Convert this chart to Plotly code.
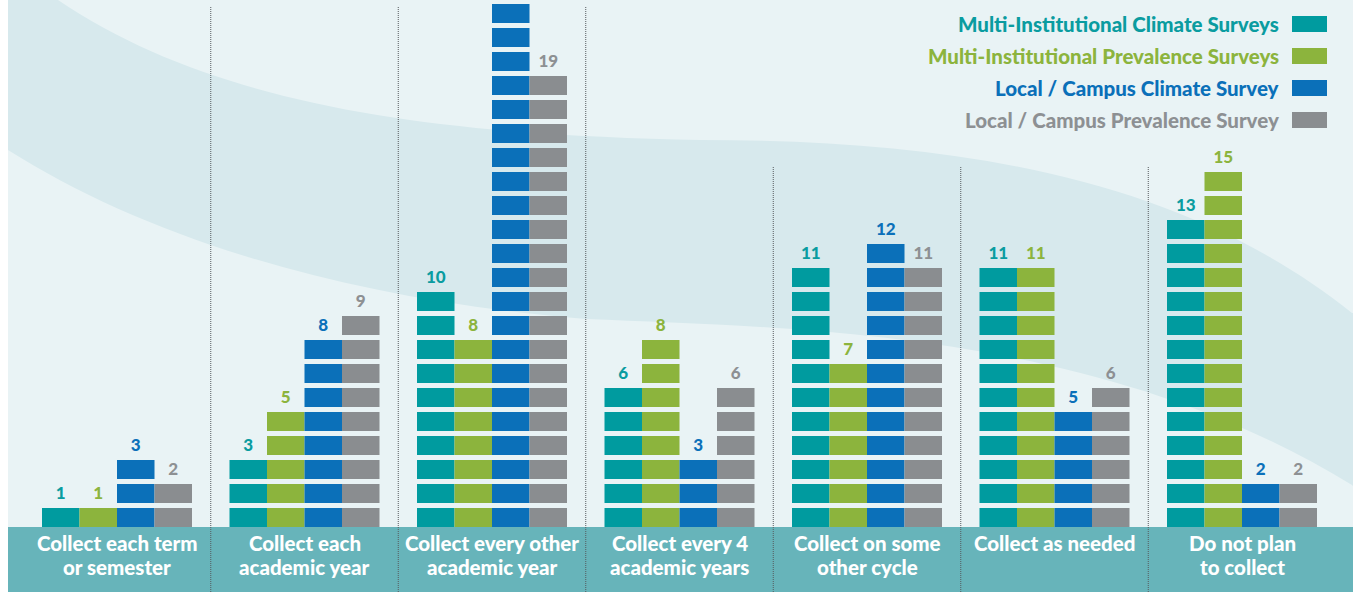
import plotly.graph_objects as go

# ---------------- data ----------------
categories = [
    "Collect each term<br>or semester",
    "Collect each<br>academic year",
    "Collect every other<br>academic year",
    "Collect every 4<br>academic years",
    "Collect on some<br>other cycle",
    "Collect as needed",
    "Do not plan<br>to collect",
]
series_names = [
    "Multi-Institutional Climate Surveys",
    "Multi-Institutional Prevalence Surveys",
    "Local / Campus Climate Survey",
    "Local / Campus Prevalence Survey",
]
multi_climate = [1, 3, 10, 6, 11, 11, 13]
multi_prevalence = [1, 5, 8, 8, 7, 11, 15]
local_climate = [3, 8, 22, 3, 12, 5, 2]
local_prevalence = [2, 9, 19, 6, 11, 6, 2]
series_values = [multi_climate, multi_prevalence, local_climate, local_prevalence]
bar_colors = ["#009b9f", "#8cb43d", "#0b70b9", "#8a8d90"]
text_colors = ["#0a9ca0", "#8cb43d", "#0b70b9", "#8d9093"]

# ---------------- geometry ----------------
W, H = 1353, 592
BASE_PX = 527        # pixel row of the bars' baseline
UNIT_PX = 24         # pixel pitch of one block
X0_PX, STEP_PX = 117, 187.5
BLOCK_H = 19 / 24
BAR_W = 0.2
FONT = "Lato"


def px(x):
    return x / W


def py(y):
    return 1 - y / H


fig = go.Figure()

# blocks
for s, (name, vals) in enumerate(zip(series_names, series_values)):
    xs, bases, ys = [], [], []
    for i, v in enumerate(vals):
        for k in range(v):
            xs.append(i + (s - 1.5) * BAR_W)
            bases.append(k)
            ys.append(BLOCK_H)
    fig.add_trace(go.Bar(
        x=xs, y=ys, base=bases, width=BAR_W, name=name,
        marker=dict(color=bar_colors[s], line=dict(width=0)),
        hoverinfo="skip", showlegend=False,
    ))
    fig.add_trace(go.Scatter(
        x=[i + (s - 1.5) * BAR_W for i in range(len(vals))],
        y=[v + 0.33 for v in vals],
        text=[str(v) for v in vals],
        mode="text",
        textfont=dict(family=FONT, size=17, color=text_colors[s], weight=900),
        hoverinfo="skip", showlegend=False, cliponaxis=False,
    ))

shapes = []
# light background panel
shapes.append(dict(type="rect", xref="paper", yref="paper", x0=px(8), x1=1, y0=0, y1=1,
                   fillcolor="#e9f3f5", line=dict(width=0), layer="below"))


# curved band
def P(x, y):
    return f"{px(x):.5f},{py(y):.5f}"


band = (
    f"M{P(8,0)} L{P(58,0)} "
    f"C{P(220,110)} {P(450,135)} {P(700,140)} "
    f"C{P(950,140)} {P(1180,175)} {P(1352,313)} "
    f"L{P(1353,313)} L{P(1353,486)} L{P(1352,485)} "
    f"C{P(1100,330)} {P(800,328)} {P(586,319)} "
    f"C{P(350,300)} {P(150,240)} {P(8,150)} Z"
)
shapes.append(dict(type="path", xref="paper", yref="paper", path=band,
                   fillcolor="#d7e9ed", line=dict(width=0), layer="below"))

# bottom label band
shapes.append(dict(type="rect", xref="paper", yref="paper", x0=px(8), x1=1, y0=0, y1=py(BASE_PX),
                   fillcolor="#67b4ba", line=dict(width=0), layer="below"))

# dotted separators
sep_tops = [6, 6, 6, 166, 166, 166]
for j, top in enumerate(sep_tops):
    shapes.append(dict(type="line", xref="x", yref="paper", x0=j + 0.5, x1=j + 0.5,
                       y0=0, y1=py(top), line=dict(color="#555a5e", width=1, dash="1px,1px"),
                       layer="below"))

# legend squares
for s in range(len(series_names)):
    yc = 24 + 32 * s
    shapes.append(dict(type="rect", xref="paper", yref="paper", x0=px(1292), x1=px(1327),
                       y0=py(yc + 8), y1=py(yc - 8), fillcolor=bar_colors[s],
                       line=dict(width=0)))

annotations = []
for s, name in enumerate(series_names):
    annotations.append(dict(
        xref="paper", yref="paper", x=px(1281), y=py(24 + 32 * s),
        xanchor="right", yanchor="middle", text=name, showarrow=False,
        font=dict(family=FONT, size=20.5, color=text_colors[s], weight=900),
    ))

for i, cat in enumerate(categories):
    for k, line in enumerate(cat.split("<br>")):
        annotations.append(dict(
            xref="x", yref="paper", x=i, y=py(543 + 24 * k), xanchor="center", yanchor="middle",
            text=line, showarrow=False,
            font=dict(family=FONT, size=20.5, color="white", weight=900),
        ))

fig.update_layout(
    width=W, height=H,
    margin=dict(l=0, r=0, t=0, b=0),
    paper_bgcolor="white", plot_bgcolor="rgba(0,0,0,0)",
    barmode="overlay",
    showlegend=False,
    xaxis=dict(range=[-X0_PX / STEP_PX, (W - X0_PX) / STEP_PX], visible=False, fixedrange=True),
    yaxis=dict(range=[(BASE_PX - H) / UNIT_PX, BASE_PX / UNIT_PX], visible=False, fixedrange=True),
    shapes=shapes,
    annotations=annotations,
)

fig.write_html(
    "out.html",
    config={"displayModeBar": False},
    post_script="document.body.style.margin='0';document.body.style.overflow='hidden';",
)
